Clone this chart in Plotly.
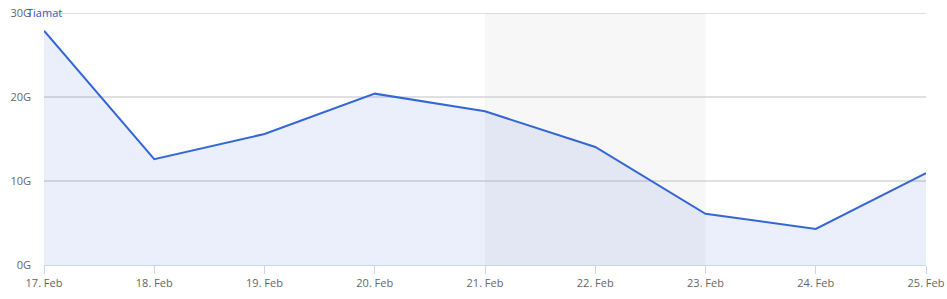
import plotly.graph_objects as go

dates = ["2024-02-17", "2024-02-18", "2024-02-19", "2024-02-20", "2024-02-21",
         "2024-02-22", "2024-02-23", "2024-02-24", "2024-02-25"]
values = [27.9, 12.6, 15.6, 20.4, 18.3, 14.05, 6.1, 4.3, 10.95]
band_start = "2024-02-21"
band_end = "2024-02-23"
y_ticks = [0, 10, 20, 30]
y_tick_labels = ["0G", "10G", "20G", "30G"]
series_name = "Tiamat"

W, H = 947, 299
ML, MR, MT, MB = 44, 21, 13, 34

fig = go.Figure()
fig.add_trace(go.Scatter(
    x=dates, y=values, mode="lines", name=series_name,
    line=dict(color="#3366d6", width=2),
    fill="tozeroy", fillcolor="rgba(51,102,214,0.1)",
    hoverinfo="x+y",
))
fig.add_vrect(x0=band_start, x1=band_end, fillcolor="rgba(0,0,0,0.03)",
              line_width=0, layer="below")
for v in y_ticks[1:]:
    fig.add_shape(type="line", xref="paper", x0=0, x1=1, yref="y", y0=v, y1=v,
                  line=dict(color="#c0c0c0", width=1), layer="below")

fig.update_layout(
    width=W, height=H,
    margin=dict(l=ML, r=MR, t=MT, b=MB, autoexpand=False),
    paper_bgcolor="white", plot_bgcolor="white",
    showlegend=False,
    font=dict(family="Open Sans, DejaVu Sans, sans-serif", size=11, color="#666666"),
    xaxis=dict(
        type="date", range=[dates[0], dates[-1]],
        tickvals=dates, tickformat="%d. %b", automargin=False,
        showgrid=False, showline=True, linecolor="#ccd6eb", linewidth=1,
        ticks="outside", ticklen=8, tickcolor="#ccd6eb",
        tickfont=dict(size=11, color="#666666"), zeroline=False,
    ),
    yaxis=dict(
        range=[0, 30], tickvals=y_ticks, ticktext=y_tick_labels, automargin=False,
        showgrid=False,
        zeroline=False, showline=False, ticks="",
        ticklabelstandoff=12,
        tickfont=dict(size=11, color="#666666"),
    ),
    annotations=[dict(
        text=series_name, xref="paper", yref="paper",
        x=(25 - ML) / (W - ML - MR), y=1 + (MT - 12) / (H - MT - MB),
        showarrow=False, xanchor="left", yanchor="middle",
        font=dict(size=11, color="#3355cc"),
    )],
)

fig.write_html("out.html")
